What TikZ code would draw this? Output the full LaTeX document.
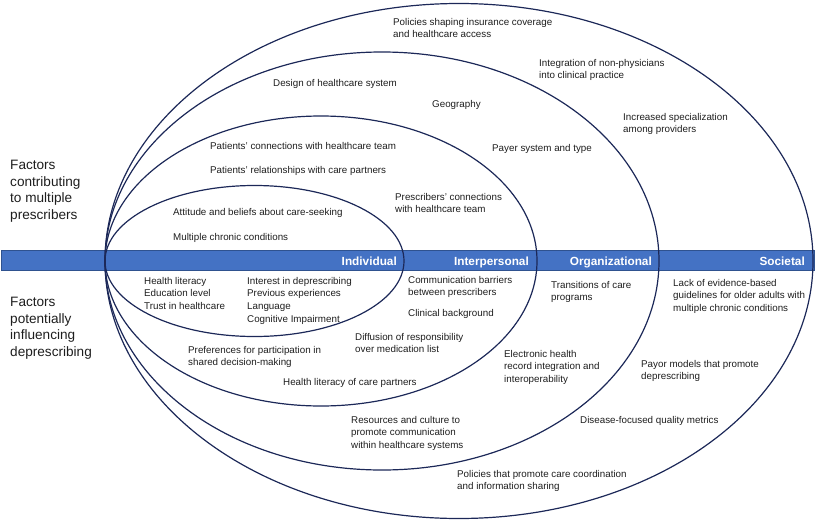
\documentclass[tikz,border=0pt]{standalone}
\usepackage{fontspec}
\setmainfont{Liberation Sans}
\definecolor{barblue}{RGB}{68,114,196}
\definecolor{barline}{RGB}{47,82,143}
\definecolor{ringblue}{RGB}{28,40,88}
\definecolor{txtgray}{RGB}{30,30,30}

\begin{document}
\begin{tikzpicture}[x=1pt,y=-1pt,
    ring/.style={draw=ringblue,line width=1.2pt},
    fac/.style={anchor=north west,align=left,inner sep=0pt,text=txtgray,
        font=\fontsize{9.8}{12.6}\selectfont},
    side/.style={anchor=north west,align=left,inner sep=0pt,text=txtgray,
        font=\fontsize{13.6}{16.7}\selectfont},
    lvl/.style={anchor=base east,inner sep=0pt,text=white,
        font=\fontsize{11.8}{14}\selectfont\bfseries}]
    \useasboundingbox (0,0) rectangle (816,522);
    % level bar
    \draw[fill=barblue,draw=barline,line width=0.6pt] (1,250) rectangle (814,270);
    % nested rings, all touching at the left end
    \draw[ring] (254.5,261) ellipse [x radius=149.5pt, y radius=75.5pt];
    \draw[ring] (321,261) ellipse [x radius=216pt, y radius=145pt];
    \draw[ring] (382,261) ellipse [x radius=277pt, y radius=209pt];
    \draw[ring] (459,261) ellipse [x radius=354pt, y radius=257.5pt];
    % level names
    \node[lvl] (ind) at (397,265.5) {Individual};
    \node[lvl] (intp) at (529,265.5) {Interpersonal};
    \node[lvl] (org) at (652,265.5) {Organizational};
    \node[lvl] (soc) at (805,265.5) {Societal};
    % side labels
    \node[side] (multi) at (10,160) {Factors\\contributing\\to multiple\\prescribers};
    \node[side] (depr) at (10,297) {Factors\\potentially\\influencing\\deprescribing};
    % above the bar
    \node[fac] (polins) at (393,18) {Policies shaping insurance coverage\\and healthcare access};
    \node[fac] (integ) at (539,59) {Integration of non-physicians\\into clinical practice};
    \node[fac] (design) at (273,79) {Design of healthcare system};
    \node[fac] (geo) at (432,100) {Geography};
    \node[fac] (spec) at (623,113) {Increased specialization\\among providers};
    \node[fac] (payer) at (492,144) {Payer system and type};
    \node[fac] (pconn) at (210,142) {Patients’ connections with healthcare team};
    \node[fac] (prel) at (210,166) {Patients’ relationships with care partners};
    \node[fac] (prconn) at (395,193) {Prescribers’ connections\\with healthcare team};
    \node[fac] (attit) at (173,208) {Attitude and beliefs about care-seeking};
    \node[fac] (chron) at (173,233) {Multiple chronic conditions};
    % below the bar
    \node[fac] (hlit) at (144,277) {Health literacy\\Education level\\Trust in healthcare};
    \node[fac] (inter) at (247,277) {Interest in deprescribing\\Previous experiences\\Language\\Cognitive Impairment};
    \node[fac] (comm) at (408,276) {Communication barriers\\between prescribers};
    \node[fac] (clin) at (408,309) {Clinical background};
    \node[fac] (diff) at (355,333) {Diffusion of responsibility\\over medication list};
    \node[fac] (pref) at (188,346) {Preferences for participation in\\shared decision-making};
    \node[fac] (hlcp) at (283,378) {Health literacy of care partners};
    \node[fac] (trans) at (551,281) {Transitions of care\\programs};
    \node[fac] (lack) at (673,279) {Lack of evidence-based\\guidelines for older adults with\\multiple chronic conditions};
    \node[fac] (ehr) at (504,350) {Electronic health\\record integration and\\interoperability};
    \node[fac] (payor) at (641,360) {Payor models that promote\\deprescribing};
    \node[fac] (resc) at (351,416) {Resources and culture to\\promote communication\\within healthcare systems};
    \node[fac] (disq) at (580,416) {Disease-focused quality metrics};
    \node[fac] (polcc) at (457,470) {Policies that promote care coordination\\and information sharing};
\end{tikzpicture}
\end{document}
